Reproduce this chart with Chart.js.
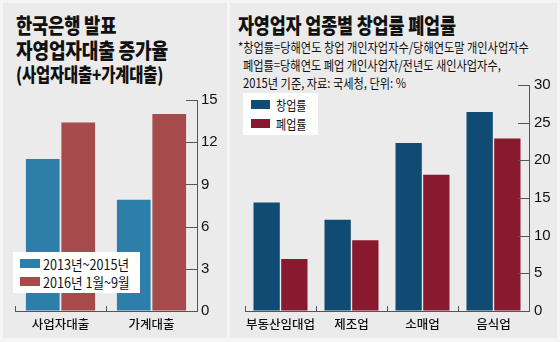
<!DOCTYPE html>
<html>
<head>
<meta charset="utf-8">
<script src="https://cdn.jsdelivr.net/npm/chart.js@4/dist/chart.umd.min.js"></script>
<style>
  html, body { margin: 0; padding: 0; }
  body { width: 560px; height: 342px; background: #f5f5f5; position: relative; overflow: hidden;
         font-family: 'Noto Sans CJK KR', sans-serif; color: #111; }
  .panel { position: absolute; top: 3px; bottom: 4px; background: #ebebeb; }
  #left-panel { left: 3px; width: 224px; }
  #right-panel { left: 230px; right: 3px; }
  .box { position: absolute; }
  .title { position: absolute; left: 0; white-space: nowrap; font-weight: 900; font-size: 21px;
           line-height: 24px; transform-origin: 0 50%; letter-spacing: -0.2px; }
  .note { position: absolute; white-space: nowrap; font-size: 13px; line-height: 17px;
          transform-origin: 0 50%; transform: scaleX(0.86); }
  .legend { position: absolute; background: #fff; }
  .legend .sw { position: absolute; }
  .legend .lbl { position: absolute; white-space: nowrap; transform-origin: 0 50%; }
</style>
</head>
<body>
<div class="panel" id="left-panel"></div>
<div class="panel" id="right-panel"></div>

<div class="box" style="left:16px; top:12px; width:210px; height:80px;">
  <div class="title" style="top:0; transform:scaleX(0.84);">한국은행 발표</div>
  <div class="title" style="top:25px; transform:scaleX(0.86);">자영업자대출 증가율</div>
  <div class="title" style="top:50px; font-size:19px; transform:scaleX(0.81);">(사업자대출+가계대출)</div>
</div>

<div class="box" style="left:238px; top:12px; width:320px; height:80px;">
  <div class="title" style="top:0; transform:scaleX(0.83);">자영업자 업종별 창업률 폐업률</div>
  <div class="note" style="top:26px; left:0;">*창업률=당해연도 창업 개인자업자수/당해연도말 개인사업자수</div>
  <div class="note" style="top:44px; left:5px;">폐업률=당해연도 폐업 개인사업자/전년도 새인사업자수,</div>
  <div class="note" style="top:62px; left:5px;">2015년 기준, 자료: 국세청, 단위: %</div>
</div>

<div class="box" style="left:0; top:0; width:228px; height:342px;"><canvas id="left-chart"></canvas></div>
<div class="box" style="left:230px; top:0; width:330px; height:342px;"><canvas id="right-chart"></canvas></div>

<div class="legend" id="left-legend" style="left:13px; top:252px; width:127px; height:41px;"></div>
<div class="legend" id="right-legend" style="left:243px; top:93px; width:75px; height:42px;"></div>

<script>
// 자영업자대출 증가율 (%)
const loanCategories = ['사업자대출', '가계대출'];
const loanLabels = ['2013년~2015년', '2016년 1월~9월'];
const loan2013to2015 = [10.8, 7.9];
const loan2016 = [13.4, 14.0];
const loanColors = ['#2d7faa', '#a54b4b'];
const loanMax = 15;
const loanStep = 3;

// 업종별 창업률 폐업률 (%)
const industryCategories = ['부동산임대업', '제조업', '소매업', '음식업'];
const rateLabels = ['창업률', '폐업률'];
const startupRate = [14.4, 12.1, 22.3, 26.4];
const closureRate = [6.9, 9.4, 18.1, 22.9];
const rateColors = ['#0f4b73', '#88192e'];
const rateMax = 30;
const rateStep = 5;

const tickFont = { family: "'Liberation Sans Narrow', 'Liberation Sans', sans-serif", size: 15 };
const catFont = { family: "'Noto Sans CJK KR', sans-serif", size: 12.5, weight: 500 };

// short tick marks drawn inside the plot, left of the right-hand axis and above the baseline
const innerTicks = {
  id: 'innerTicks',
  afterDraw(chart) {
    const ctx = chart.ctx;
    const x = chart.scales.x;
    const y = chart.scales.y;
    ctx.save();
    ctx.strokeStyle = '#555';
    ctx.lineWidth = 1;
    y.ticks.forEach(t => {
      const py = Math.round(y.getPixelForValue(t.value)) + 0.5;
      ctx.beginPath();
      ctx.moveTo(y.left - 11, py);
      ctx.lineTo(y.left, py);
      ctx.stroke();
    });
    const n = x.ticks.length;
    for (let i = 0; i < n; i++) {
      const px = i === 0 ? x.left : (x.getPixelForValue(i - 1) + x.getPixelForValue(i)) / 2;
      const rx = Math.round(px) + 0.5;
      ctx.beginPath();
      ctx.moveTo(rx, x.top - 5);
      ctx.lineTo(rx, x.top);
      ctx.stroke();
    }
    ctx.restore();
  }
};

function makeChart(id, categories, labels, values, colors, max, step, padLeft, padTop, yPad) {
  return new Chart(document.getElementById(id), {
    type: 'bar',
    data: {
      labels: categories,
      datasets: values.map((v, i) => ({
        label: labels[i],
        data: v,
        backgroundColor: colors[i],
        borderWidth: 0,
        categoryPercentage: 0.78,
        barPercentage: 0.95
      }))
    },
    options: {
      responsive: true,
      maintainAspectRatio: false,
      animation: false,
      layout: { padding: { left: padLeft, top: padTop, right: 0, bottom: 0 } },
      plugins: { legend: { display: false }, tooltip: { enabled: false } },
      scales: {
        x: {
          grid: { display: false, drawTicks: false },
          border: { display: true, color: '#555', width: 1 },
          ticks: { font: catFont, color: '#111', padding: 6, maxRotation: 0, autoSkip: false },
          afterFit(scale) { scale.height = 31; }
        },
        y: {
          position: 'right',
          min: 0,
          max: max,
          grid: { display: true, drawOnChartArea: false, drawTicks: false },
          border: { display: true, color: '#555', width: 1 },
          ticks: { stepSize: step, font: tickFont, color: '#111', padding: yPad },
          afterFit(scale) { scale.width = 31; }
        }
      }
    },
    plugins: [innerTicks]
  });
}

makeChart('left-chart', loanCategories, loanLabels, [loan2013to2015, loan2016], loanColors, loanMax, loanStep, 15, 100, 4);
makeChart('right-chart', industryCategories, rateLabels, [startupRate, closureRate], rateColors, rateMax, rateStep, 15, 85, 5);

function buildLegend(id, labels, colors, sw, textLeft, rows, fontSize, scale) {
  const box = document.getElementById(id);
  labels.forEach((name, i) => {
    const s = document.createElement('div');
    s.className = 'sw';
    s.style.cssText = `left:${sw.x}px; top:${rows[i]}px; width:${sw.w}px; height:${sw.h}px; background:${colors[i]};`;
    box.appendChild(s);
    const t = document.createElement('div');
    t.className = 'lbl';
    t.textContent = name;
    t.style.cssText = `left:${textLeft}px; top:${rows[i] + sw.h / 2 - 10}px; line-height:20px; font-size:${fontSize}px; transform:scaleX(${scale});`;
    box.appendChild(t);
  });
}

buildLegend('left-legend', loanLabels, loanColors, { x: 7, w: 20, h: 9 }, 30, [7, 25], 14, 0.9);
buildLegend('right-legend', rateLabels, rateColors, { x: 8, w: 19, h: 9 }, 33, [7, 26], 13, 0.85);
</script>
</body>
</html>
